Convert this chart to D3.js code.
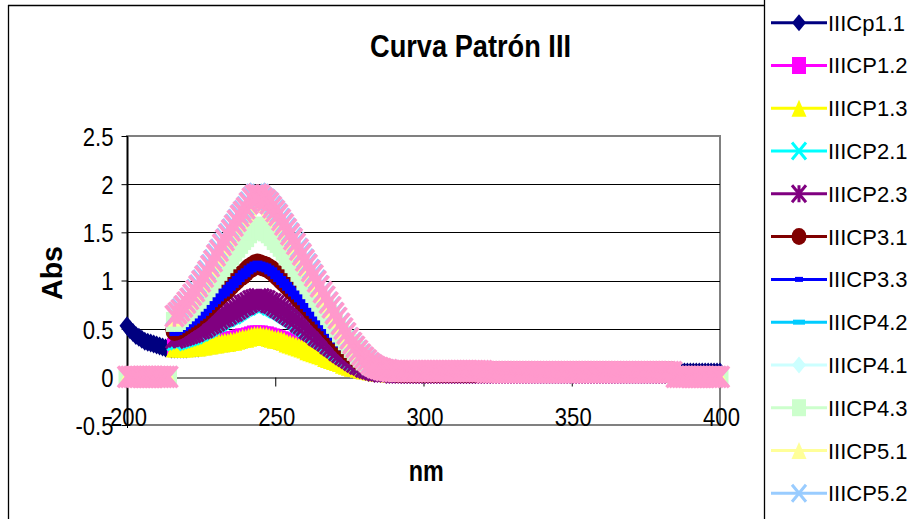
<!DOCTYPE html>
<html>
<head>
<meta charset="utf-8">
<script src="https://cdn.jsdelivr.net/npm/d3@7"></script>
<style>
  html, body { margin: 0; padding: 0; background: #fff; }
  svg { display: block; }
  text { font-family: "Liberation Sans", Arial, Helvetica, sans-serif; fill: #000; }
</style>
</head>
<body>
<svg id="chart" width="917" height="519"></svg>
<script>
// ---- data -----------------------------------------------------------------
const _ = null; // blank cell (no reading)

const chartTitle = "Curva Patrón III";
const xTitle = "nm";
const yTitle = "Abs";

const xTickValues = [200, 250, 300, 350, 400];
const yTickValues = [-0.5, 0, 0.5, 1, 1.5, 2, 2.5];

// wavelength (nm), one reading per nm
const wavelengths = [
  200,201,202,203,204,205,206,207,208,209,210,211,212,213,214,215,
  216,217,218,219,220,221,222,223,224,225,226,227,228,229,230,
  231,232,233,234,235,236,237,238,239,240,241,242,243,244,245,
  246,247,248,249,250,251,252,253,254,255,256,257,258,259,260,
  261,262,263,264,265,266,267,268,269,270,271,272,273,274,275,
  276,277,278,279,280,281,282,283,284,285,286,287,288,289,290,
  291,292,293,294,295,296,297,298,299,300,
  301,302,303,304,305,306,307,308,309,310,
  311,312,313,314,315,316,317,318,319,320,
  321,322,323,324,325,326,327,328,329,330,
  331,332,333,334,335,336,337,338,339,340,
  341,342,343,344,345,346,347,348,349,350,
  351,352,353,354,355,356,357,358,359,360,
  361,362,363,364,365,366,367,368,369,370,
  371,372,373,374,375,376,377,378,379,380,
  381,382,383,384,
  385,386,387,388,389,390,391,392,393,394,395,396,397,398,399,400
];

const seriesNames = [
  "IIICp1.1", "IIICP1.2", "IIICP1.3", "IIICP2.1", "IIICP2.3", "IIICP3.1", "IIICP3.3",
  "IIICP4.2", "IIICP4.1", "IIICP4.3", "IIICP5.1", "IIICP5.2", "IIICP5.3"
];

const absIIICp11 = [
  0.53,0.49,0.46,0.43,0.41,0.39,0.37,0.36,0.35,0.34,0.33,0.32,0.31,0.30,0.30,0.29,
  0.29,0.29,0.29,0.29,0.29,0.30,0.30,0.30,0.30,0.31,0.31,0.32,0.32,0.33,0.33,
  0.34,0.34,0.35,0.35,0.36,0.36,0.37,0.38,0.39,0.39,0.40,0.41,0.42,0.42,0.42,
  0.41,0.41,0.40,0.39,0.38,0.38,0.37,0.36,0.34,0.33,0.32,0.31,0.30,0.29,0.28,
  0.26,0.25,0.24,0.23,0.22,0.21,0.19,0.18,0.17,0.16,0.15,0.14,0.12,0.11,0.10,
  0.09,0.09,0.08,0.07,0.07,0.06,0.06,0.05,0.05,0.05,0.05,0.05,0.05,0.05,0.05,
  0.05,0.05,0.05,0.05,0.05,0.05,0.05,0.05,0.05,0.05,
  0.05,0.05,0.05,0.05,0.05,0.05,0.05,0.05,0.05,0.05,
  0.05,0.05,0.05,0.05,0.05,0.05,0.05,0.05,0.05,0.05,
  0.05,0.05,0.05,0.05,0.05,0.05,0.05,0.05,0.05,0.05,
  0.05,0.05,0.05,0.05,0.05,0.05,0.05,0.05,0.05,0.05,
  0.05,0.05,0.05,0.05,0.05,0.05,0.05,0.05,0.05,0.05,
  0.05,0.05,0.05,0.05,0.05,0.05,0.05,0.05,0.05,0.05,
  0.05,0.05,0.05,0.05,0.05,0.05,0.05,0.05,0.05,0.05,
  0.05,0.05,0.05,0.05,0.05,0.05,0.05,0.05,0.05,0.05,
  0.05,0.05,0.05,0.05,
  0.05,0.05,0.05,0.05,0.05,0.05,0.05,0.05,0.05,0.05,0.05,0.05,0.05,0.05,0.05,0.05
];
const absIIICP12 = [
  _,_,_,_,_,_,_,_,_,_,_,_,_,_,_,_,
  0.31,0.31,0.31,0.31,0.31,0.32,0.32,0.32,0.32,0.33,0.33,0.34,0.34,0.35,0.35,
  0.36,0.36,0.37,0.37,0.38,0.38,0.39,0.40,0.41,0.41,0.42,0.43,0.44,0.44,0.44,
  0.43,0.43,0.42,0.41,0.40,0.39,0.38,0.37,0.36,0.35,0.34,0.33,0.32,0.30,0.29,
  0.28,0.27,0.25,0.24,0.23,0.22,0.21,0.20,0.18,0.17,0.16,0.15,0.14,0.13,0.11,
  0.10,0.10,0.09,0.08,0.07,0.07,0.06,0.06,0.05,0.05,0.05,0.05,0.04,0.04,0.04,
  0.04,0.04,0.04,0.04,0.04,0.04,0.04,0.04,0.04,0.04,
  0.04,0.04,0.04,0.04,0.04,0.04,0.04,0.04,0.04,0.04,
  0.04,0.04,0.04,0.04,0.04,0.04,0.04,0.04,0.04,0.04,
  0.04,0.04,0.04,0.04,0.04,0.04,0.04,0.04,0.04,0.04,
  0.04,0.04,0.04,0.04,0.04,0.04,0.04,0.04,0.04,0.04,
  0.04,0.04,0.04,0.04,0.04,0.04,0.04,0.04,0.04,0.04,
  0.04,0.04,0.04,0.04,0.04,0.04,0.04,0.04,0.04,0.04,
  0.04,0.04,0.04,0.04,0.04,0.04,0.04,0.04,0.04,0.04,
  0.04,0.04,0.04,0.04,0.04,0.04,0.04,0.04,0.04,0.04,
  0.04,0.04,0.04,0.04,
  _,_,_,_,_,_,_,_,_,_,_,_,_,_,_,_
];
const absIIICP13 = [
  _,_,_,_,_,_,_,_,_,_,_,_,_,_,_,_,
  0.30,0.30,0.30,0.30,0.30,0.31,0.31,0.31,0.31,0.32,0.32,0.33,0.33,0.34,0.34,
  0.35,0.35,0.36,0.36,0.37,0.37,0.38,0.39,0.40,0.40,0.41,0.42,0.43,0.43,0.43,
  0.42,0.42,0.41,0.40,0.39,0.39,0.38,0.37,0.35,0.34,0.33,0.32,0.31,0.30,0.29,
  0.27,0.26,0.25,0.24,0.23,0.22,0.20,0.19,0.18,0.17,0.16,0.15,0.13,0.12,0.11,
  0.10,0.10,0.09,0.08,0.07,0.07,0.06,0.06,0.05,0.05,0.05,0.05,0.04,0.04,0.04,
  0.04,0.04,0.04,0.04,0.04,0.04,0.04,0.04,0.04,0.04,
  0.04,0.04,0.04,0.04,0.04,0.04,0.04,0.04,0.04,0.04,
  0.04,0.04,0.04,0.04,0.04,0.04,0.04,0.04,0.04,0.04,
  0.04,0.04,0.04,0.04,0.04,0.04,0.04,0.04,0.04,0.04,
  0.04,0.04,0.04,0.04,0.04,0.04,0.04,0.04,0.04,0.04,
  0.04,0.04,0.04,0.04,0.04,0.04,0.04,0.04,0.04,0.04,
  0.04,0.04,0.04,0.04,0.04,0.04,0.04,0.04,0.04,0.04,
  0.04,0.04,0.04,0.04,0.04,0.04,0.04,0.04,0.04,0.04,
  0.04,0.04,0.04,0.04,0.04,0.04,0.04,0.04,0.04,0.04,
  0.04,0.04,0.04,0.04,
  _,_,_,_,_,_,_,_,_,_,_,_,_,_,_,_
];
const absIIICP21 = [
  _,_,_,_,_,_,_,_,_,_,_,_,_,_,_,_,
  0.36,0.37,0.38,0.39,0.40,0.41,0.42,0.43,0.45,0.46,0.48,0.49,0.51,0.53,0.55,
  0.56,0.58,0.60,0.61,0.63,0.64,0.66,0.68,0.70,0.72,0.73,0.75,0.76,0.77,0.77,
  0.76,0.75,0.73,0.72,0.70,0.69,0.67,0.65,0.63,0.61,0.59,0.57,0.54,0.52,0.50,
  0.48,0.46,0.44,0.41,0.39,0.37,0.35,0.33,0.30,0.28,0.26,0.24,0.22,0.20,0.18,
  0.16,0.15,0.13,0.12,0.10,0.09,0.08,0.07,0.06,0.06,0.05,0.05,0.05,0.05,0.04,
  0.04,0.04,0.04,0.04,0.04,0.04,0.04,0.04,0.04,0.04,
  0.04,0.04,0.04,0.04,0.04,0.04,0.04,0.04,0.04,0.04,
  0.04,0.04,0.04,0.04,0.04,0.04,0.04,0.04,0.04,0.04,
  0.04,0.04,0.04,0.04,0.04,0.04,0.04,0.04,0.04,0.04,
  0.04,0.04,0.04,0.04,0.04,0.04,0.04,0.04,0.04,0.04,
  0.04,0.04,0.04,0.04,0.04,0.04,0.04,0.04,0.04,0.04,
  0.04,0.04,0.04,0.04,0.04,0.04,0.04,0.04,0.04,0.04,
  0.04,0.04,0.04,0.04,0.04,0.04,0.04,0.04,0.04,0.04,
  0.04,0.04,0.04,0.04,0.04,0.04,0.04,0.04,0.04,0.04,
  0.04,0.04,0.04,0.04,
  _,_,_,_,_,_,_,_,_,_,_,_,_,_,_,_
];
const absIIICP23 = [
  _,_,_,_,_,_,_,_,_,_,_,_,_,_,_,_,
  0.40,0.41,0.42,0.43,0.44,0.45,0.46,0.47,0.49,0.50,0.51,0.53,0.55,0.56,0.58,
  0.60,0.62,0.63,0.65,0.67,0.68,0.70,0.72,0.74,0.75,0.77,0.79,0.80,0.81,0.81,
  0.80,0.79,0.77,0.76,0.74,0.72,0.70,0.68,0.66,0.64,0.62,0.60,0.57,0.55,0.53,
  0.50,0.48,0.46,0.43,0.41,0.39,0.37,0.34,0.32,0.30,0.27,0.25,0.23,0.21,0.19,
  0.17,0.15,0.13,0.12,0.10,0.09,0.08,0.07,0.06,0.06,0.05,0.05,0.05,0.05,0.04,
  0.04,0.04,0.04,0.04,0.04,0.04,0.04,0.04,0.04,0.04,
  0.04,0.04,0.04,0.04,0.04,0.04,0.04,0.04,0.04,0.04,
  0.04,0.04,0.04,0.04,0.04,0.04,0.04,0.04,0.04,0.04,
  0.04,0.04,0.04,0.04,0.04,0.04,0.04,0.04,0.04,0.04,
  0.04,0.04,0.04,0.04,0.04,0.04,0.04,0.04,0.04,0.04,
  0.04,0.04,0.04,0.04,0.04,0.04,0.04,0.04,0.04,0.04,
  0.04,0.04,0.04,0.04,0.04,0.04,0.04,0.04,0.04,0.04,
  0.04,0.04,0.04,0.04,0.04,0.04,0.04,0.04,0.04,0.04,
  0.04,0.04,0.04,0.04,0.04,0.04,0.04,0.04,0.04,0.04,
  0.04,0.04,0.04,0.04,
  _,_,_,_,_,_,_,_,_,_,_,_,_,_,_,_
];
const absIIICP31 = [
  _,_,_,_,_,_,_,_,_,_,_,_,_,_,_,_,
  0.48,0.49,0.51,0.53,0.55,0.57,0.59,0.61,0.64,0.66,0.69,0.72,0.75,0.78,0.81,
  0.84,0.87,0.89,0.92,0.95,0.98,1.01,1.04,1.06,1.09,1.12,1.14,1.16,1.17,1.16,
  1.15,1.14,1.12,1.10,1.07,1.04,1.01,0.98,0.95,0.92,0.89,0.86,0.82,0.79,0.76,
  0.73,0.69,0.66,0.62,0.59,0.56,0.53,0.49,0.46,0.42,0.39,0.35,0.32,0.29,0.26,
  0.23,0.21,0.18,0.16,0.14,0.12,0.11,0.09,0.08,0.08,0.07,0.07,0.06,0.06,0.06,
  0.05,0.05,0.05,0.05,0.05,0.05,0.05,0.05,0.05,0.05,
  0.05,0.05,0.05,0.05,0.05,0.05,0.05,0.05,0.05,0.05,
  0.05,0.05,0.05,0.05,0.05,0.05,0.05,0.05,0.05,0.05,
  0.05,0.05,0.05,0.05,0.05,0.05,0.05,0.05,0.05,0.05,
  0.05,0.05,0.05,0.05,0.05,0.05,0.05,0.05,0.05,0.05,
  0.05,0.05,0.05,0.05,0.05,0.05,0.05,0.05,0.05,0.05,
  0.05,0.05,0.05,0.05,0.05,0.05,0.05,0.05,0.05,0.05,
  0.05,0.05,0.05,0.05,0.05,0.05,0.05,0.05,0.05,0.05,
  0.05,0.05,0.05,0.05,0.05,0.05,0.05,0.05,0.05,0.05,
  0.05,0.05,0.05,0.05,
  _,_,_,_,_,_,_,_,_,_,_,_,_,_,_,_
];
const absIIICP33 = [
  _,_,_,_,_,_,_,_,_,_,_,_,_,_,_,_,
  0.47,0.48,0.50,0.52,0.54,0.56,0.58,0.60,0.63,0.65,0.68,0.71,0.74,0.77,0.80,
  0.83,0.86,0.88,0.91,0.94,0.97,1.00,1.03,1.06,1.08,1.11,1.13,1.15,1.16,1.15,
  1.14,1.13,1.11,1.09,1.06,1.03,1.00,0.97,0.94,0.91,0.88,0.85,0.82,0.79,0.75,
  0.72,0.68,0.65,0.62,0.59,0.55,0.52,0.48,0.45,0.42,0.39,0.35,0.32,0.29,0.26,
  0.23,0.21,0.18,0.16,0.14,0.12,0.10,0.09,0.08,0.08,0.07,0.07,0.06,0.06,0.06,
  0.05,0.05,0.05,0.05,0.05,0.05,0.05,0.05,0.05,0.05,
  0.05,0.05,0.05,0.05,0.05,0.05,0.05,0.05,0.05,0.05,
  0.05,0.05,0.05,0.05,0.05,0.05,0.05,0.05,0.05,0.05,
  0.05,0.05,0.05,0.05,0.05,0.05,0.05,0.05,0.05,0.05,
  0.05,0.05,0.05,0.05,0.05,0.05,0.05,0.05,0.05,0.05,
  0.05,0.05,0.05,0.05,0.05,0.05,0.05,0.05,0.05,0.05,
  0.05,0.05,0.05,0.05,0.05,0.05,0.05,0.05,0.05,0.05,
  0.05,0.05,0.05,0.05,0.05,0.05,0.05,0.05,0.05,0.05,
  0.05,0.05,0.05,0.05,0.05,0.05,0.05,0.05,0.05,0.05,
  0.05,0.05,0.05,0.05,
  _,_,_,_,_,_,_,_,_,_,_,_,_,_,_,_
];
const absIIICP42 = [
  0,0,0,0,0,0,0,0,0,0,0,0,0,0,0,_,
  0.55,0.57,0.60,0.63,0.66,0.69,0.72,0.75,0.79,0.82,0.86,0.90,0.94,0.98,1.03,
  1.07,1.11,1.15,1.19,1.22,1.26,1.30,1.34,1.38,1.41,1.45,1.48,1.51,1.52,1.51,
  1.50,1.48,1.45,1.42,1.38,1.35,1.31,1.27,1.23,1.19,1.15,1.11,1.06,1.02,0.98,
  0.93,0.89,0.85,0.80,0.76,0.71,0.67,0.62,0.58,0.54,0.50,0.45,0.41,0.37,0.33,
  0.29,0.26,0.22,0.20,0.17,0.15,0.12,0.11,0.09,0.08,0.07,0.07,0.06,0.06,0.05,
  0.05,0.05,0.05,0.05,0.05,0.05,0.05,0.05,0.05,0.05,
  0.05,0.05,0.05,0.05,0.05,0.05,0.05,0.05,0.05,0.05,
  0.05,0.05,0.05,0.05,0.05,0.05,0.05,0.05,0.05,0.05,
  0.05,0.05,0.05,0.05,0.05,0.05,0.05,0.05,0.05,0.05,
  0.05,0.05,0.05,0.05,0.05,0.05,0.05,0.05,0.05,0.05,
  0.05,0.05,0.05,0.05,0.05,0.05,0.05,0.05,0.05,0.05,
  0.05,0.05,0.05,0.05,0.05,0.05,0.05,0.05,0.05,0.05,
  0.05,0.05,0.05,0.05,0.05,0.05,0.05,0.05,0.05,0.05,
  0.05,0.05,0.05,0.05,0.05,0.05,0.05,0.05,0.05,0.05,
  0.05,0.05,0.05,0.05,
  0,0,0,0,0,0,0,0,0,0,0,0,0,0,0,0
];
const absIIICP41 = [
  0,0,0,0,0,0,0,0,0,0,0,0,0,0,0,_,
  0.56,0.58,0.61,0.64,0.67,0.70,0.73,0.77,0.80,0.84,0.88,0.92,0.96,1.00,1.04,
  1.08,1.12,1.16,1.20,1.24,1.28,1.32,1.36,1.40,1.43,1.47,1.50,1.53,1.54,1.53,
  1.52,1.50,1.47,1.44,1.40,1.37,1.33,1.29,1.25,1.21,1.17,1.13,1.08,1.04,0.99,
  0.95,0.90,0.86,0.81,0.77,0.72,0.68,0.63,0.59,0.54,0.50,0.46,0.41,0.37,0.33,
  0.29,0.26,0.23,0.20,0.17,0.15,0.12,0.11,0.09,0.08,0.07,0.07,0.06,0.06,0.06,
  0.05,0.05,0.05,0.05,0.05,0.05,0.05,0.05,0.05,0.05,
  0.05,0.05,0.05,0.05,0.05,0.05,0.05,0.05,0.05,0.05,
  0.05,0.05,0.05,0.05,0.05,0.05,0.05,0.05,0.05,0.05,
  0.05,0.05,0.05,0.05,0.05,0.05,0.05,0.05,0.05,0.05,
  0.05,0.05,0.05,0.05,0.05,0.05,0.05,0.05,0.05,0.05,
  0.05,0.05,0.05,0.05,0.05,0.05,0.05,0.05,0.05,0.05,
  0.05,0.05,0.05,0.05,0.05,0.05,0.05,0.05,0.05,0.05,
  0.05,0.05,0.05,0.05,0.05,0.05,0.05,0.05,0.05,0.05,
  0.05,0.05,0.05,0.05,0.05,0.05,0.05,0.05,0.05,0.05,
  0.05,0.05,0.05,0.05,
  0,0,0,0,0,0,0,0,0,0,0,0,0,0,0,0
];
const absIIICP43 = [
  0,0,0,0,0,0,0,0,0,0,0,0,0,0,0,_,
  0.57,0.59,0.62,0.65,0.68,0.71,0.74,0.78,0.81,0.85,0.89,0.93,0.97,1.02,1.06,
  1.10,1.14,1.18,1.22,1.26,1.30,1.34,1.38,1.42,1.45,1.49,1.52,1.55,1.56,1.55,
  1.53,1.51,1.49,1.46,1.42,1.39,1.35,1.31,1.26,1.22,1.18,1.14,1.09,1.05,1.00,
  0.96,0.91,0.87,0.82,0.78,0.73,0.69,0.64,0.60,0.55,0.51,0.46,0.42,0.38,0.34,
  0.30,0.27,0.23,0.20,0.17,0.15,0.12,0.11,0.09,0.08,0.07,0.07,0.07,0.06,0.06,
  0.05,0.05,0.05,0.05,0.05,0.05,0.05,0.05,0.05,0.05,
  0.05,0.05,0.05,0.05,0.05,0.05,0.05,0.05,0.05,0.05,
  0.05,0.05,0.05,0.05,0.05,0.05,0.05,0.05,0.05,0.05,
  0.05,0.05,0.05,0.05,0.05,0.05,0.05,0.05,0.05,0.05,
  0.05,0.05,0.05,0.05,0.05,0.05,0.05,0.05,0.05,0.05,
  0.05,0.05,0.05,0.05,0.05,0.05,0.05,0.05,0.05,0.05,
  0.05,0.05,0.05,0.05,0.05,0.05,0.05,0.05,0.05,0.05,
  0.05,0.05,0.05,0.05,0.05,0.05,0.05,0.05,0.05,0.05,
  0.05,0.05,0.05,0.05,0.05,0.05,0.05,0.05,0.05,0.05,
  0.05,0.05,0.05,0.05,
  0,0,0,0,0,0,0,0,0,0,0,0,0,0,0,0
];
const absIIICP51 = [
  0,0,0,0,0,0,0,0,0,0,0,0,0,0,0,_,
  0.62,0.65,0.68,0.72,0.76,0.80,0.84,0.88,0.93,0.97,1.02,1.07,1.13,1.18,1.24,
  1.29,1.35,1.40,1.45,1.50,1.55,1.60,1.64,1.68,1.72,1.77,1.82,1.85,1.86,1.85,
  1.82,1.80,1.77,1.73,1.69,1.65,1.61,1.56,1.51,1.46,1.41,1.36,1.30,1.25,1.19,
  1.14,1.08,1.03,0.98,0.93,0.87,0.82,0.76,0.71,0.65,0.60,0.54,0.49,0.44,0.40,
  0.35,0.31,0.27,0.23,0.20,0.17,0.14,0.12,0.10,0.09,0.08,0.08,0.07,0.07,0.06,
  0.05,0.05,0.05,0.05,0.05,0.05,0.05,0.05,0.05,0.05,
  0.05,0.05,0.05,0.05,0.05,0.05,0.05,0.05,0.05,0.05,
  0.05,0.05,0.05,0.05,0.05,0.05,0.05,0.05,0.05,0.05,
  0.05,0.05,0.05,0.05,0.05,0.05,0.05,0.05,0.05,0.05,
  0.05,0.05,0.05,0.05,0.05,0.05,0.05,0.05,0.05,0.05,
  0.05,0.05,0.05,0.05,0.05,0.05,0.05,0.05,0.05,0.05,
  0.05,0.05,0.05,0.05,0.05,0.05,0.05,0.05,0.05,0.05,
  0.05,0.05,0.05,0.05,0.05,0.05,0.05,0.05,0.05,0.05,
  0.05,0.05,0.05,0.05,0.05,0.05,0.05,0.05,0.05,0.05,
  0.05,0.05,0.05,0.05,
  0,0,0,0,0,0,0,0,0,0,0,0,0,0,0,0
];
const absIIICP52 = [
  0,0,0,0,0,0,0,0,0,0,0,0,0,0,0,_,
  0.64,0.67,0.71,0.74,0.78,0.82,0.86,0.91,0.96,1.01,1.06,1.11,1.17,1.22,1.28,
  1.33,1.39,1.44,1.49,1.54,1.59,1.64,1.69,1.73,1.77,1.82,1.87,1.90,1.91,1.90,
  1.87,1.85,1.82,1.78,1.74,1.70,1.65,1.60,1.55,1.50,1.45,1.40,1.34,1.29,1.23,
  1.18,1.12,1.07,1.01,0.95,0.89,0.84,0.78,0.73,0.67,0.62,0.56,0.51,0.46,0.41,
  0.36,0.32,0.28,0.24,0.21,0.18,0.15,0.13,0.11,0.09,0.08,0.08,0.07,0.07,0.06,
  0.06,0.06,0.06,0.06,0.06,0.06,0.06,0.06,0.06,0.06,
  0.06,0.06,0.06,0.06,0.06,0.06,0.06,0.06,0.06,0.06,
  0.06,0.06,0.06,0.06,0.06,0.06,0.06,0.06,0.06,0.06,
  0.05,0.05,0.05,0.05,0.05,0.05,0.05,0.05,0.05,0.05,
  0.05,0.05,0.05,0.05,0.05,0.05,0.05,0.05,0.05,0.05,
  0.05,0.05,0.05,0.05,0.05,0.05,0.05,0.05,0.05,0.05,
  0.05,0.05,0.05,0.05,0.05,0.05,0.05,0.05,0.05,0.05,
  0.05,0.05,0.05,0.05,0.05,0.05,0.05,0.05,0.05,0.05,
  0.05,0.05,0.05,0.05,0.05,0.05,0.05,0.05,0.05,0.05,
  0.05,0.05,0.05,0.05,
  0,0,0,0,0,0,0,0,0,0,0,0,0,0,0,0
];
const absIIICP53 = [
  0,0,0,0,0,0,0,0,0,0,0,0,0,0,0,_,
  0.63,0.66,0.69,0.73,0.77,0.81,0.85,0.89,0.94,0.99,1.04,1.09,1.15,1.20,1.26,
  1.31,1.37,1.42,1.47,1.52,1.57,1.62,1.67,1.71,1.75,1.80,1.85,1.88,1.89,1.88,
  1.85,1.83,1.80,1.76,1.72,1.68,1.63,1.58,1.53,1.48,1.43,1.38,1.32,1.27,1.21,
  1.16,1.10,1.05,0.99,0.94,0.88,0.83,0.77,0.72,0.66,0.61,0.55,0.50,0.45,0.40,
  0.35,0.31,0.27,0.23,0.20,0.17,0.14,0.12,0.10,0.09,0.08,0.07,0.07,0.06,0.06,
  0.06,0.06,0.06,0.06,0.06,0.06,0.06,0.06,0.06,0.06,
  0.06,0.06,0.06,0.06,0.06,0.06,0.06,0.06,0.06,0.06,
  0.06,0.06,0.06,0.06,0.06,0.06,0.06,0.06,0.06,0.06,
  0.05,0.05,0.05,0.05,0.05,0.05,0.05,0.05,0.05,0.05,
  0.05,0.05,0.05,0.05,0.05,0.05,0.05,0.05,0.05,0.05,
  0.05,0.05,0.05,0.05,0.05,0.05,0.05,0.05,0.05,0.05,
  0.05,0.05,0.05,0.05,0.05,0.05,0.05,0.05,0.05,0.05,
  0.05,0.05,0.05,0.05,0.05,0.05,0.05,0.05,0.05,0.05,
  0.05,0.05,0.05,0.05,0.05,0.05,0.05,0.05,0.05,0.05,
  0.05,0.05,0.05,0.05,
  0,0,0,0,0,0,0,0,0,0,0,0,0,0,0,0
];

const seriesValues = [
  absIIICp11, absIIICP12, absIIICP13, absIIICP21, absIIICP23, absIIICP31, absIIICP33,
  absIIICP42, absIIICP41, absIIICP43, absIIICP51, absIIICP52, absIIICP53
];
seriesValues.forEach((vals, i) => {
  if (vals.length !== wavelengths.length) {
    throw new Error(seriesNames[i] + " has " + vals.length + " readings, expected " + wavelengths.length);
  }
});

// ---- styles (Excel-like palette and marker cycle) --------------------------
// w/h: marker box in the plot; lw/lh: marker box in the legend; sw: stroke width
const seriesStyles = [
  { color: "#000080", marker: "diamond",  w: 15, h: 19, lw: 14, lh: 17 },
  { color: "#FF00FF", marker: "square",   w: 15, h: 18, lw: 14, lh: 17 },
  { color: "#FFFF00", marker: "triangle", w: 17, h: 19, lw: 15, lh: 17 },
  { color: "#00FFFF", marker: "x",        w: 14, h: 17, sw: 3, lw: 14, lh: 17, lsw: 3 },
  { color: "#800080", marker: "star",     w: 17, h: 20, sw: 3, lw: 14, lh: 17, lsw: 3 },
  { color: "#800000", marker: "circle",   w: 18, h: 21, lw: 15, lh: 17 },
  { color: "#0000FF", marker: "square",   w: 10, h: 9,  lw: 8,  lh: 5 },
  { color: "#00CCFF", marker: "square",   w: 14, h: 5,  lw: 12, lh: 5 },
  { color: "#CCFFFF", marker: "diamond",  w: 15, h: 18, lw: 14, lh: 17 },
  { color: "#CCFFCC", marker: "square",   w: 17, h: 20, lw: 14, lh: 17 },
  { color: "#FFFF99", marker: "triangle", w: 17, h: 19, lw: 15, lh: 17 },
  { color: "#99CCFF", marker: "x",        w: 16, h: 19, sw: 3, lw: 14, lh: 17, lsw: 3 },
  { color: "#FF99CC", marker: "star",     w: 18, h: 21, sw: 3.5, lw: 14, lh: 17, lsw: 3 }
];

// ---- layout ---------------------------------------------------------------
const W = 917, H = 519;
const plot = { left: 127, right: 720, top: 136, bottom: 425 };
const svg = d3.select("#chart");

const x = d3.scaleLinear().domain([200, 400]).range([plot.left, plot.right]);
const y = d3.scaleLinear().domain([-0.5, 2.5]).range([plot.bottom, plot.top]);

// Narrow a text element horizontally to a given width, keeping its anchor.
function fitText(node, width, anchor) {
  const t = d3.select(node);
  const ax = +t.attr("x") || 0;
  t.attr("text-anchor", "start");
  t.attr("textLength", width).attr("lengthAdjust", "spacingAndGlyphs");
  t.attr("x", anchor === "middle" ? ax - width / 2 : anchor === "end" ? ax - width : ax);
}
function squeeze(node, ratio, anchor) {
  const w = node.getComputedTextLength();
  fitText(node, w * ratio, anchor);
}

function markerPath(type, w, h) {
  const a = w / 2, b = h / 2;
  switch (type) {
    case "diamond":  return `M0,${-b}L${a},0L0,${b}L${-a},0Z`;
    case "square":   return `M${-a},${-b}H${a}V${b}H${-a}Z`;
    case "triangle": return `M0,${-b}L${a},${b}L${-a},${b}Z`;
    case "x":        return `M${-a},${-b}L${a},${b}M${a},${-b}L${-a},${b}`;
    case "star":     return `M${-a},${-b}L${a},${b}M${a},${-b}L${-a},${b}M0,${-b}V${b}`;
    case "circle":   return `M${-a},0A${a},${b} 0 1,0 ${a},0A${a},${b} 0 1,0 ${-a},0Z`;
  }
  return "";
}
const isStroked = m => m === "x" || m === "star";

function styleMarker(sel, st, w, h, sw) {
  sel.attr("d", markerPath(st.marker, w, h));
  if (isStroked(st.marker)) {
    sel.attr("fill", "none").attr("stroke", st.color).attr("stroke-width", sw || 3);
  } else {
    sel.attr("fill", st.color).attr("stroke", "none");
  }
}

// ---- frame ----------------------------------------------------------------
svg.append("rect").attr("width", W).attr("height", H).attr("fill", "#fff");

// plot area border
svg.append("rect")
  .attr("x", plot.left).attr("y", plot.top)
  .attr("width", plot.right - plot.left).attr("height", plot.bottom - plot.top)
  .attr("fill", "#fff").attr("stroke", "#808080").attr("stroke-width", 2);

// horizontal gridlines
svg.append("g").selectAll("line")
  .data(yTickValues.filter(v => v > -0.5 && v < 2.5 && v !== 0))
  .join("line")
  .attr("x1", plot.left).attr("x2", plot.right)
  .attr("y1", d => Math.round(y(d)) + 0.5).attr("y2", d => Math.round(y(d)) + 0.5)
  .attr("stroke", "#000").attr("stroke-width", 1);

// y axis
const yAxisG = svg.append("g")
  .attr("transform", `translate(${plot.left + 0.5},0)`)
  .call(d3.axisLeft(y).tickValues(yTickValues).tickSize(6).tickSizeOuter(0)
    .tickFormat(d => String(d)));
yAxisG.select(".domain").attr("stroke", "#000");
yAxisG.selectAll(".tick line").attr("stroke", "#000");
yAxisG.append("line").attr("x1", 0).attr("x2", 0)
  .attr("y1", plot.top).attr("y2", plot.bottom + 3).attr("stroke", "#000");
yAxisG.selectAll(".tick text")
  .attr("font-size", 26).attr("font-family", '"Liberation Sans", Arial, sans-serif')
  .attr("fill", "#000").attr("x", -14).attr("dy", "0.36em")
  .each(function () { squeeze(this, 0.85, "end"); });

// x axis along Abs = 0
const xAxisG = svg.append("g")
  .attr("transform", `translate(0,${Math.round(y(0)) + 0.5})`)
  .call(d3.axisBottom(x).tickValues(xTickValues).tickSize(9).tickSizeOuter(0)
    .tickFormat(d => String(d)));
xAxisG.select(".domain").attr("stroke", "#000");
xAxisG.selectAll(".tick line").attr("stroke", "#000");
xAxisG.selectAll(".tick text")
  .attr("font-size", 26).attr("font-family", '"Liberation Sans", Arial, sans-serif')
  .attr("fill", "#000").attr("dy", null).attr("y", plot.bottom + 0.5 - Math.round(y(0)) - 0.5)
  .attr("x", 1)
  .each(function () { squeeze(this, 0.85, "middle"); });

// ---- series ---------------------------------------------------------------
const line = d3.line()
  .defined(d => d.v !== null)
  .x(d => x(d.w))
  .y(d => y(d.v));

const seriesG = svg.append("g");
seriesValues.forEach((vals, i) => {
  const st = seriesStyles[i];
  const pts = wavelengths.map((w, j) => ({ w, v: vals[j] }));
  const g = seriesG.append("g").attr("class", "series");
  g.append("path").datum(pts)
    .attr("d", line)
    .attr("fill", "none").attr("stroke", st.color).attr("stroke-width", 3)
    .attr("stroke-linejoin", "round");
  g.selectAll("path.mk")
    .data(pts.filter(d => d.v !== null))
    .join("path").attr("class", "mk")
    .attr("transform", d => `translate(${x(d.w)},${y(d.v)})`)
    .call(styleMarker, st, st.w, st.h, st.sw);
});

// ---- titles ---------------------------------------------------------------
svg.append("text")
  .attr("x", 470.5).attr("y", 57)
  .attr("font-size", 32).attr("font-weight", "bold")
  .text(chartTitle)
  .each(function () { fitText(this, 201, "middle"); });

svg.append("text")
  .attr("x", 426.3).attr("y", 480.5)
  .attr("font-size", 29).attr("font-weight", "bold")
  .text(xTitle)
  .each(function () { fitText(this, 35, "middle"); });

svg.append("g")
  .attr("transform", "translate(51.5,273) rotate(-90)")
  .append("text")
  .attr("x", 0).attr("y", 10.5)
  .attr("font-size", 29).attr("font-weight", "bold")
  .text(yTitle)
  .each(function () { fitText(this, 54, "middle"); });

// ---- legend (rows that fit inside the chart box) --------------------------
const legendG = svg.append("g");
seriesNames.forEach((name, i) => {
  const st = seriesStyles[i];
  const cy = 22.7 + 42.78 * i;
  if (cy + 12 > H) return;
  const row = legendG.append("g").attr("transform", `translate(0,${cy})`);
  row.append("line").attr("x1", 771).attr("x2", 827).attr("y1", 0).attr("y2", 0)
    .attr("stroke", st.color).attr("stroke-width", 3);
  row.append("path").attr("transform", "translate(799,0)")
    .call(styleMarker, st, st.lw, st.lh, st.lsw);
  row.append("text").attr("x", 828).attr("y", 8)
    .attr("font-size", 22).text(name);
});

// ---- outer borders --------------------------------------------------------
svg.append("line").attr("x1", 8.5).attr("x2", 8.5).attr("y1", 5).attr("y2", H)
  .attr("stroke", "#000").attr("stroke-width", 1.3);
svg.append("line").attr("x1", 8).attr("x2", 764.5).attr("y1", 5.5).attr("y2", 5.5)
  .attr("stroke", "#000").attr("stroke-width", 1.3);
svg.append("line").attr("x1", 764.5).attr("x2", 764.5).attr("y1", 0).attr("y2", H)
  .attr("stroke", "#000").attr("stroke-width", 1.3);
</script>
</body>
</html>
